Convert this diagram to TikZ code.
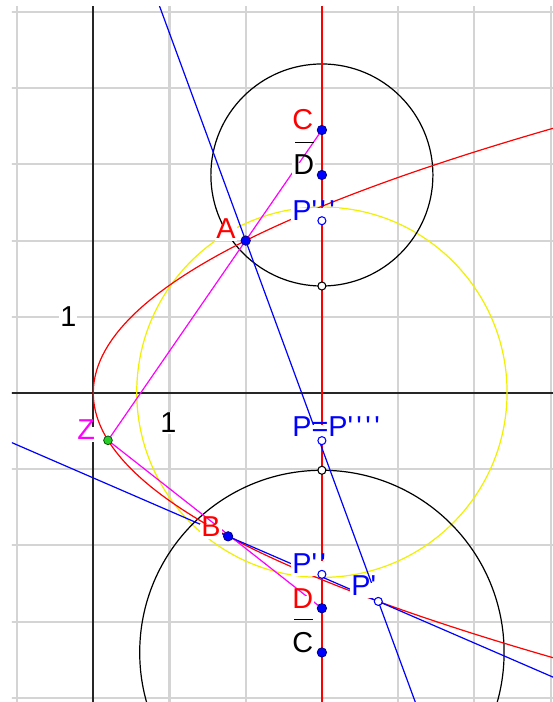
\documentclass[tikz,border=0pt]{standalone}
\usepackage{fontspec}
\setmainfont{Liberation Sans}
\usetikzlibrary{calc}
\definecolor{myred}{RGB}{255,0,0}
\definecolor{myblue}{RGB}{0,0,255}
\definecolor{mymag}{RGB}{255,0,255}
\definecolor{myyel}{RGB}{240,240,0}
\definecolor{mygrid}{RGB}{212,212,212}
\definecolor{mygreen}{RGB}{40,205,40}
\newcommand\pr{\textquotesingle\kern0.12em}
\newcommand\ovl[1]{\rlap{\kern0.07em\rule[1.1em]{0.64em}{1.2pt}}#1}
\begin{document}
\begin{tikzpicture}[x=2cm,y=2cm,
  gridline/.style={draw=mygrid,line width=1.5pt},
  axisline/.style={draw=black!85,line width=1.5pt},
  thinline/.style={line width=0.9pt},
  lbl/.style={fill=white,inner sep=0.8pt,anchor=base west,text height=0.8em,text depth=0.12em,font=\fontsize{21.5}{24}\selectfont},
  numlbl/.style={fill=white,inner sep=0.8pt,font=\fontsize{21.5}{24}\selectfont},
  bdot/.style={circle,fill=myblue,draw=myblue!50!black,line width=0.6pt,inner sep=0pt,minimum size=7pt},
  odot/.style={circle,fill=white,draw=#1,line width=0.8pt,inner sep=0pt,minimum size=6pt},
  gdot/.style={circle,fill=mygreen,draw=green!35!black,line width=0.6pt,inner sep=0pt,minimum size=6.5pt}]
\useasboundingbox[fill=white] (-1.2244,-4.0551) rectangle (6.0197,5.1575);
\begin{scope}
\clip (-1.067,-4.2) rectangle (6.2,5.066);
% points
\coordinate (A) at (2,2);
\coordinate (B) at (1.769,-1.881);
\coordinate (Z) at (0.1928,-0.621);
\coordinate (C) at (3,3.451);
\coordinate (Db) at (3,2.861);
\coordinate (P3) at (3,2.261);
\coordinate (Q1) at (3,1.404);
\coordinate (P) at (3,-0.625);
\coordinate (Q2) at (3,-1.014);
\coordinate (P2) at (3,-2.38);
\coordinate (P1) at (3.740,-2.735);
\coordinate (D) at (3,-2.825);
\coordinate (Cb) at (3,-3.405);
\coordinate (Yc) at (3,0.01);
\coordinate (Vt) at (3,5.4);
\coordinate (Vb) at (3,-4.3);
% grid and axes
\draw[gridline,xstep=2cm,ystep=2cm] (-2,-5) grid (7,6);
\draw[axisline] (-1.5,0) -- (6.5,0);
\draw[axisline] (0,-4.5) -- (0,5.5);
% circles
\draw[thinline,myyel] (Yc) circle (2.43);
\draw[thinline,black] (Db) circle (1.457);
\draw[thinline,black] (Cb) circle (2.391);
% red
\draw[thinline,myred] (Vt) -- (Vb);
\draw[thinline,myred] plot[variable=\t,domain=-3.8:3.6,samples=160] ({\t*\t/2},{\t});
% magenta
\draw[thinline,mymag] (Z) -- (C);
\draw[thinline,mymag] (Z) -- (D);
% blue
\draw[thinline,myblue] ($(A)!-0.7!(P1)$) -- ($(A)!1.3!(P1)$);
\draw[thinline,myblue] ($(B)!-1.5!(P1)$) -- ($(B)!2.3!(P1)$);
% labels
\node[numlbl] (one-y) at (-0.3281,1.0013) {1};
\node[numlbl] (one-x) at (0.9843,-0.3898) {1};
\node[lbl,text=myred] (lC) at (2.5945,3.458) {C};
\node[lbl,text=black] (lDb) at (2.6076,2.8609) {\ovl{D}};
\node[lbl,text=myblue] (lP3) at (2.5945,2.2703) {P\pr\pr\pr};
\node[lbl,text=myred] (lA) at (1.5971,2.0341) {A};
\node[lbl,text=mymag] (lZ) at (-0.2270,-0.6037) {Z};
\node[lbl,text=myred] (lB) at (1.4003,-1.8766) {B};
\node[lbl,text=myblue] (lP) at (2.5945,-0.5774) {P=P\pr\pr\pr\pr};
\node[lbl,text=myblue] (lP2) at (2.5945,-2.3622) {P\pr\pr};
\node[lbl,text=myblue] (lP1) at (3.3688,-2.6509) {P\pr};
\node[lbl,text=myred] (lD) at (2.5945,-2.8215) {D};
\node[lbl,text=black] (lCb) at (2.5945,-3.3989) {\ovl{C}};
% dots
\node[bdot] (nC) at (C) {};
\node[bdot] (nDb) at (Db) {};
\node[bdot] (nA) at (A) {};
\node[bdot] (nB) at (B) {};
\node[bdot] (nD) at (D) {};
\node[bdot] (nCb) at (Cb) {};
\node[odot=myblue] (nP3) at (P3) {};
\node[odot=myblue] (nP) at (P) {};
\node[odot=myblue] (nP2) at (P2) {};
\node[odot=myblue] (nP1) at (P1) {};
\node[odot=black] (nQ1) at (Q1) {};
\node[odot=black] (nQ2) at (Q2) {};
\node[gdot] (nZ) at (Z) {};
\end{scope}
\end{tikzpicture}
\end{document}
